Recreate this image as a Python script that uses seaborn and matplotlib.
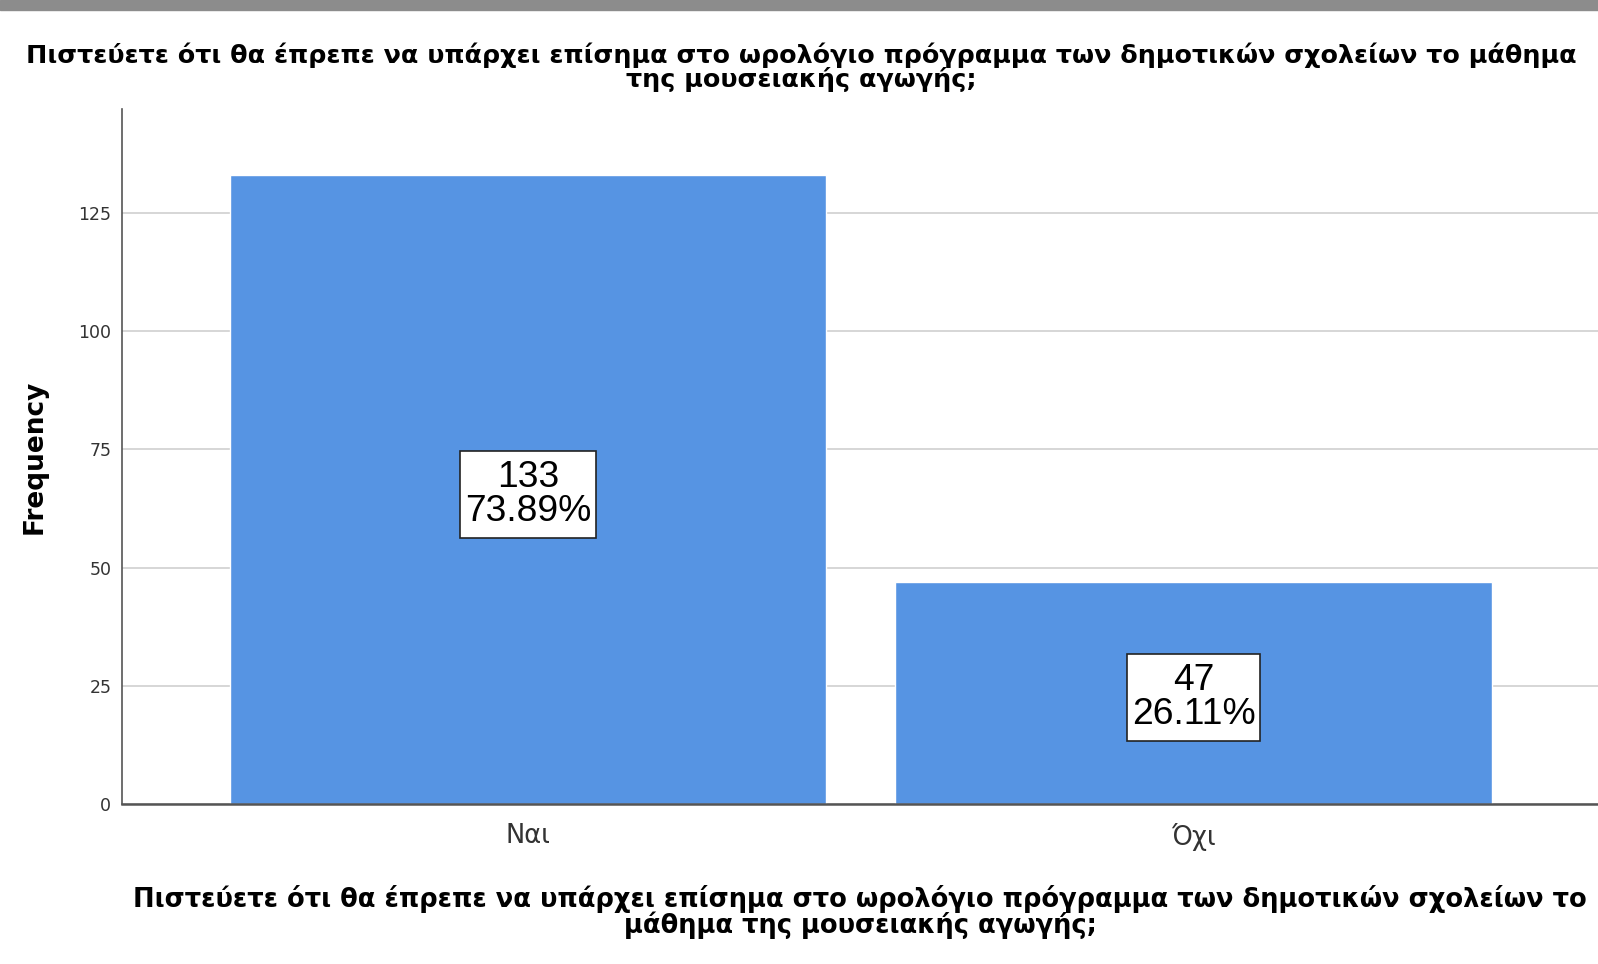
import matplotlib
matplotlib.use('Agg')
import matplotlib.pyplot as plt
import seaborn as sns
import pandas as pd

# ── Δεδομένα ──
kategoriler = ['Ναι', 'Όχι']
sikliklar = [133, 47]
yuzdeler = [73.89, 26.11]
y_tikler = [0, 25, 50, 75, 100, 125]

baslik = ('Πιστεύετε ότι θα έπρεπε να υπάρχει επίσημα στο ωρολόγιο πρόγραμμα των δημοτικών σχολείων το μάθημα\n'
          'της μουσειακής αγωγής;')
x_etiket = ('Πιστεύετε ότι θα έπρεπε να υπάρχει επίσημα στο ωρολόγιο πρόγραμμα των δημοτικών σχολείων το\n'
            'μάθημα της μουσειακής αγωγής;')

RENK = '#5694E3'
GENIS = ['DejaVu Sans']

sns.set_style('white')
plt.rcParams['font.family'] = ['Liberation Sans', 'DejaVu Sans']

df = pd.DataFrame({'kategori': kategoriler, 'frekans': sikliklar})

fig = plt.figure(figsize=(15.98, 9.64), dpi=100)
# üstteki gri şerit
fig.patches.append(plt.Rectangle((0, 1 - 10 / 964), 1, 10 / 964, transform=fig.transFigure,
                                 color='#8c8c8c', zorder=0))
ax = fig.add_axes([0.0766, 0.166, 0.9234, 0.721])

sns.barplot(data=df, x='kategori', y='frekans', color=RENK, saturation=1, width=0.896,
            ax=ax, zorder=2)

ax.set_xlim(-0.61, 1.608)
ax.set_ylim(0, 147)
ax.set_yticks(y_tikler)
ax.yaxis.grid(True, color='#d0d0d0', linewidth=1.2, zorder=0)
ax.set_axisbelow(True)
ax.tick_params(axis='both', length=0)
ax.tick_params(axis='y', labelsize=12.5, labelcolor='#333333', pad=8)
ax.tick_params(axis='x', labelsize=18.5, labelcolor='#333333', pad=14)
for t in ax.get_yticklabels() + ax.get_xticklabels():
    t.set_family(GENIS)

for s in ['top', 'right']:
    ax.spines[s].set_visible(False)
ax.spines['left'].set_color('#555555')
ax.spines['left'].set_linewidth(1.2)
ax.spines['bottom'].set_color('#555555')
ax.spines['bottom'].set_linewidth(1.8)

# Çubuk içi etiketler (kutu, metnin ölçüsüne göre sonradan çiziliyor)
etiketler = []
for i, (f, p) in enumerate(zip(sikliklar, yuzdeler)):
    t = ax.annotate(f'{f}\n{p:.2f}%', xy=(i, f / 2), xytext=(0, -3.5), textcoords='offset points',
                    ha='center', va='center', fontsize=26.8, linespacing=0.95,
                    color='black', zorder=6)
    etiketler.append(t)

ax.set_ylabel('Frequency', fontsize=19, fontweight='bold', labelpad=22, family=GENIS, color='black')
ax.set_xlabel(x_etiket, fontsize=18.5, fontweight='bold', labelpad=24, linespacing=0.95,
              family=GENIS, color='black')

fig.text(0.5012, 0.930, baslik, ha='center', va='center', fontsize=18.3, fontweight='bold',
         linespacing=0.95, family=GENIS, color='black')

fig.canvas.draw()
for t in etiketler:
    bb = t.get_window_extent()
    kutu = plt.Rectangle((bb.x0 - 5, bb.y0 - 9), bb.width + 10, bb.height + 18,
                         transform=None, facecolor='white', edgecolor='#222222',
                         linewidth=1.2, zorder=5)
    ax.add_artist(kutu)

fig.savefig('out.png', dpi=100)
